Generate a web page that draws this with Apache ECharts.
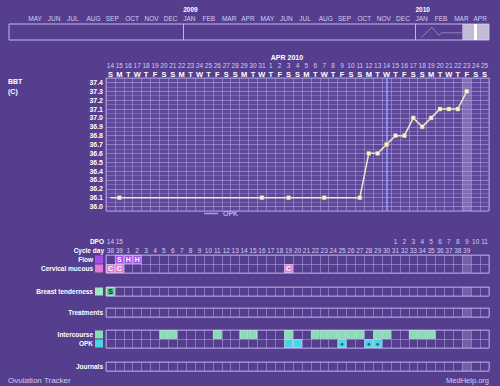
<!DOCTYPE html>
<html><head><meta charset="utf-8">
<script src="https://cdn.jsdelivr.net/npm/echarts@6/dist/echarts.min.js"></script>
<style>html,body{margin:0;padding:0;background:#563e8f;}#c{width:500px;height:386px;}</style>
</head><body><div id="c"></div>
<script>
// ---------- DATA ----------
const dates = ['Mar 14','Mar 15','Mar 16','Mar 17','Mar 18','Mar 19','Mar 20','Mar 21','Mar 22','Mar 23','Mar 24','Mar 25','Mar 26','Mar 27','Mar 28','Mar 29','Mar 30','Mar 31',
  'Apr 1','Apr 2','Apr 3','Apr 4','Apr 5','Apr 6','Apr 7','Apr 8','Apr 9','Apr 10','Apr 11','Apr 12','Apr 13','Apr 14','Apr 15','Apr 16','Apr 17','Apr 18','Apr 19','Apr 20','Apr 21','Apr 22','Apr 23','Apr 24','Apr 25'];
const weekdays = ['S','M','T','W','T','F','S','S','M','T','W','T','F','S','S','M','T','W','T','F','S','S','M','T','W','T','F','S','S','M','T','W','T','F','S','S','M','T','W','T','F','S','S'];
const cycleDays = ['38','39','1','2','3','4','5','6','7','8','9','10','11','12','13','14','15','16','17','18','19','20','21','22','23','24','25','26','27','28','29','30','31','32','33','34','35','36','37','38','39','',''];
const dpoLabels = ['14','15','','','','','','','','','','','','','','','','','','','','','','','','','','','','','','','1','2','3','4','5','6','7','8','9','10','11'];
const monthHeader = {'Apr 1':'APR 2010'};
const yTickRange = [36.0, 37.4];
const bbtReadings = [['Mar 14',36.1],['Mar 15',36.1],['Mar 31',36.1],['Apr 3',36.1],['Apr 7',36.1],['Apr 11',36.1],
  ['Apr 12',36.6],['Apr 13',36.6],['Apr 14',36.7],['Apr 15',36.8],['Apr 16',36.8],['Apr 17',37.0],['Apr 18',36.9],
  ['Apr 19',37.0],['Apr 20',37.1],['Apr 21',37.1],['Apr 22',37.1],['Apr 23',37.3]];
const ovulationDate = 'Apr 14';
const highlightDate = 'Apr 23';
const flow = [['Mar 15','S'],['Mar 16','H'],['Mar 17','H']];
const cervicalMucous = [['Mar 14','C'],['Mar 15','C'],['Apr 3','C']];
const breastTenderness = [['Mar 14','S']];
const treatments = [];
const intercourse = [['Mar 20',''],['Mar 21',''],['Mar 26',''],['Mar 29',''],['Mar 30',''],['Apr 3',''],['Apr 6',''],['Apr 7',''],['Apr 8',''],['Apr 9',''],['Apr 10',''],['Apr 11',''],['Apr 13',''],['Apr 14',''],['Apr 17',''],['Apr 18',''],['Apr 19','']];
const opk = [['Apr 3','neg'],['Apr 4','neg'],['Apr 9','pos'],['Apr 12','pos'],['Apr 13','pos']];
const journals = [];
const overviewMonths = ['APR','MAY','JUN','JUL','AUG','SEP','OCT','NOV','DEC','JAN','FEB','MAR','APR','MAY','JUN','JUL','AUG','SEP','OCT','NOV','DEC','JAN','FEB','MAR','APR'];
const overviewYears = {9:'2009', 21:'2010'};
const overviewRange = [0, 24.8];
const overviewSelection = [23.42, 24.8];
const overviewMarker = 24.08;
const overviewTrace = [[21.3,0.15],[21.85,0.8],[22.2,0.3],[22.35,0.45],[23.4,0.45]];

// ---------- LAYOUT / STYLE ----------
const FONT = '"Liberation Sans", Arial, sans-serif';
const LINE = 'rgba(176,162,228,0.55)';
const BORDER = '#a797d6';
const DIM = '#d4ccf0';
const L = 106, R = 11, ROWH = 9;
const sections = [
  {rows:['Flow','Cervical mucous'], top:255, data:{'Flow':flow,'Cervical mucous':cervicalMucous}},
  {rows:['Breast tenderness'], top:287, data:{'Breast tenderness':breastTenderness}},
  {rows:['Treatments'], top:308, data:{'Treatments':treatments}},
  {rows:['Intercourse','OPK'], top:330, data:{'Intercourse':intercourse,'OPK':opk}},
  {rows:['Journals'], top:362, data:{'Journals':journals}}
];
const rowStyle = {
  'Flow':{key:'sflow', color:'#a24fe6', border:'#e4ccff', text:'#ffffff'},
  'Cervical mucous':{key:'scm', color:'#e07ad8', border:'#ffd9fa', text:'#ffffff'},
  'Breast tenderness':{key:'sbt', color:'#62c893', border:'#e8fff0', text:'#0e2a18', swatch:'#9fe6c2'},
  'Intercourse':{key:'sic', color:'#84e0b4', border:'#c8f8e0', text:'#10301c'},
  'OPK':{key:'sopk', color:'#4dd4e4', border:'#c4f4fa', text:'#16606c'}
};

const grids = [], xAxis = [], yAxis = [], series = [];
const noAxis = {axisLine:{show:false}, axisTick:{show:false}};

// overview timeline
grids.push({left:9, right:11, top:24, height:16, show:true, borderColor:'#c2b4ee', borderWidth:1, backgroundColor:'transparent'});
xAxis.push(Object.assign({gridIndex:0, type:'value', position:'top', min:overviewRange[0], max:overviewRange[1], interval:1,
  splitLine:{show:false},
  axisLabel:{align:'left', margin:2, fontFamily:FONT, fontSize:6.5, color:DIM, showMaxLabel:false,
    formatter:v=>{const i=Math.round(v); const m=overviewMonths[i]; if(i===0 || !m || Math.abs(v-i)>0.01) return ''; const y=overviewYears[i];
      return y ? '{y|'+y+'}\n{m|'+m+'}' : '{m|'+m+'}';},
    rich:{y:{fontFamily:FONT,fontSize:6.5,fontWeight:'bold',color:'#ffffff',lineHeight:9},
          m:{fontFamily:FONT,fontSize:6.5,color:DIM,lineHeight:8}}}}, noAxis));
yAxis.push({gridIndex:0, type:'value', min:0, max:1, show:false});
series.push({type:'line', xAxisIndex:0, yAxisIndex:0, data:overviewTrace, symbol:'none', silent:true,
  lineStyle:{color:'rgba(205,195,240,0.5)', width:1},
  markArea:{silent:true, itemStyle:{color:'rgba(214,210,228,0.85)'}, data:[[{xAxis:overviewSelection[0]},{xAxis:overviewSelection[1]}]]},
  markLine:{silent:true, symbol:'none', label:{show:false},
    lineStyle:{color:'#c2b4ee', width:1, type:'solid'},
    data:Object.keys(overviewYears).map(k=>({xAxis:+k})).concat([{xAxis:overviewMarker, lineStyle:{color:'#ffffff', width:3, type:'solid'}}])}});

// main BBT grid
grids.push({left:L, right:R, top:78, height:133, show:true, backgroundColor:'#5f4899', borderColor:BORDER, borderWidth:1});
xAxis.push(Object.assign({gridIndex:1, type:'category', data:dates, position:'top', boundaryGap:true,
  axisLabel:{interval:0, margin:0, formatter:(v,i)=>weekdays[i], color:'#ffffff', fontWeight:'bold', fontSize:7.5, fontFamily:FONT},
  splitLine:{show:true, interval:0, lineStyle:{color:LINE}}}, noAxis));
xAxis.push(Object.assign({gridIndex:1, type:'category', data:dates, position:'top', offset:9,
  axisLabel:{interval:0, margin:0, formatter:v=>v.split(' ')[1], color:DIM, fontSize:6.5, fontFamily:FONT},
  splitLine:{show:false}}, noAxis));
xAxis.push(Object.assign({gridIndex:1, type:'category', data:dates, position:'top', offset:17,
  axisLabel:{interval:0, margin:0, align:'left', formatter:v=>monthHeader[v]||'', color:'#ffffff', fontWeight:'bold', fontSize:7, fontFamily:FONT},
  splitLine:{show:false}}, noAxis));
yAxis.push(Object.assign({gridIndex:1, type:'value', min:35.95, max:37.45, interval:0.05,
  axisLabel:{margin:3, color:'#ffffff', fontWeight:'bold', fontSize:7, fontFamily:FONT,
    formatter:v=>{const k=Math.round(v*100); return (k%10===0 && k>=Math.round(yTickRange[0]*100) && k<=Math.round(yTickRange[1]*100)) ? (k/100).toFixed(1) : '';}},
  splitLine:{show:true, lineStyle:{color:['rgba(176,162,228,0.35)','rgba(176,162,228,0.6)']}}}, noAxis));
yAxis.push({gridIndex:1, type:'value', min:0, max:1, show:false});
series.push({type:'bar', xAxisIndex:1, yAxisIndex:2, data:[[highlightDate,1]], barWidth:'100%', silent:true, z:1,
  itemStyle:{color:'rgba(200,190,235,0.32)'}});
series.push({type:'line', name:'BBT', xAxisIndex:1, yAxisIndex:1, z:5,
  data:bbtReadings.map((d,i)=> i===0 ? {value:d, symbol:'none'} : d),
  symbol:'rect', symbolSize:4, lineStyle:{color:'#efe9c4', width:1.5},
  itemStyle:{color:'#faf6dc', borderColor:'#c9b46a', borderWidth:0.5}});
series.push({type:'line', name:'OPK', xAxisIndex:1, yAxisIndex:1, data:[], symbol:'none', color:'#8ea6ff',
  lineStyle:{color:'#8ea6ff', width:1.5},
  markLine:{silent:true, symbol:'none', label:{show:false}, lineStyle:{color:'#8ea6ff', width:1.5, type:'solid'}, data:[{xAxis:ovulationDate}]}});

// lower sections
const rich = {t:{fontFamily:FONT, fontSize:6.5, fontWeight:'bold', color:'#ffffff'}, g:{width:2}};
Object.keys(rowStyle).forEach(r=>{ rich[rowStyle[r].key] = {width:8, height:8, backgroundColor:rowStyle[r].swatch||rowStyle[r].color}; });
const nameStyle = {color:'#ffffff', fontWeight:'bold', fontSize:6.5, fontFamily:FONT, verticalAlign:'bottom', align:'right'};
sections.forEach((s, si)=>{
  const gi = grids.length;
  grids.push({left:L, right:R, top:s.top, height:s.rows.length*ROWH, show:true, backgroundColor:'transparent', borderColor:BORDER, borderWidth:1});
  const xi = xAxis.length;
  xAxis.push(Object.assign({gridIndex:gi, type:'category', data:dates, position:'top', boundaryGap:true,
    axisLabel:{show:false}, splitLine:{show:true, interval:0, lineStyle:{color:LINE}}}, noAxis));
  if (si === 0) {
    xAxis.push(Object.assign({gridIndex:gi, type:'category', data:dates, position:'top', offset:1,
      name:'Cycle day', nameLocation:'start', nameGap:2, nameMoveOverlap:false, nameTextStyle:nameStyle,
      axisLabel:{interval:0, margin:0, formatter:(v,i)=>cycleDays[i], color:DIM, fontSize:6.5, fontFamily:FONT},
      splitLine:{show:false}}, noAxis));
    xAxis.push(Object.assign({gridIndex:gi, type:'category', data:dates, position:'top', offset:10,
      name:'DPO', nameLocation:'start', nameGap:2, nameMoveOverlap:false, nameTextStyle:nameStyle,
      axisLabel:{interval:0, margin:0, formatter:(v,i)=>dpoLabels[i], color:DIM, fontSize:6.5, fontFamily:FONT},
      splitLine:{show:false}}, noAxis));
  }
  const yi = yAxis.length;
  yAxis.push(Object.assign({gridIndex:gi, type:'category', data:s.rows, inverse:true,
    axisLabel:{interval:0, hideOverlap:false, margin:3, rich:rich, formatter:v=> rowStyle[v] ? '{t|'+v+'}{g| }{'+rowStyle[v].key+'| }' : '{t|'+v+'}'},
    splitLine:{show:true, lineStyle:{color:LINE}}}, noAxis));
  series.push({type:'scatter', xAxisIndex:xi, yAxisIndex:yi, silent:true, z:1, symbol:'rect', symbolSize:[9,9],
    itemStyle:{color:'rgba(205,195,240,0.32)'}, data:s.rows.map(r=>[highlightDate, r])});
  s.rows.forEach(r=>{
    const st = rowStyle[r]; const entries = s.data[r];
    if (!st || !entries.length) return;
    series.push({type:'scatter', name:r, xAxisIndex:xi, yAxisIndex:yi, silent:true, z:3, symbol:'rect', symbolSize:[8,8],
      itemStyle:{color:st.color, borderColor:st.border, borderWidth:0.6, opacity:1},
      label:{show:true, position:'inside', color:st.text, fontWeight:'bold', fontSize:r==='OPK'?6:7, fontFamily:FONT,
        formatter:p=> p.data.code==='pos' ? '●' : (p.data.code==='neg' ? '' : p.data.code)},
      data:entries.map(e=>({value:[e[0], r], code:e[1]}))});
  });
});

const chart = echarts.init(document.getElementById('c'), null, {renderer:'svg', width:500, height:386});
chart.setOption({
  backgroundColor:'#563e8f',
  animation:false,
  textStyle:{fontFamily:FONT},
  title:[
    {text:'BBT\n(C)', left:8, top:76, padding:0, textStyle:{color:'#ffffff', fontSize:7, fontWeight:'bold', lineHeight:10, fontFamily:FONT}},
    {text:'Ovulation Tracker', left:8, top:376, padding:0, textStyle:{color:DIM, fontSize:8, fontWeight:'normal', fontFamily:FONT}},
    {text:'MedHelp.org', right:11, top:376, padding:0, textStyle:{color:DIM, fontSize:7.5, fontWeight:'normal', fontFamily:FONT}}
  ],
  legend:{data:[{name:'OPK', icon:'rect'}], left:204, top:210, padding:0, itemWidth:14, itemHeight:1.5, itemGap:2, selectedMode:false,
    itemStyle:{color:'#8ea6ff'},
    textStyle:{color:'#9db8ff', fontSize:7, fontWeight:'bold', fontFamily:FONT}},
  grid:grids, xAxis:xAxis, yAxis:yAxis, series:series
});
</script></body></html>
